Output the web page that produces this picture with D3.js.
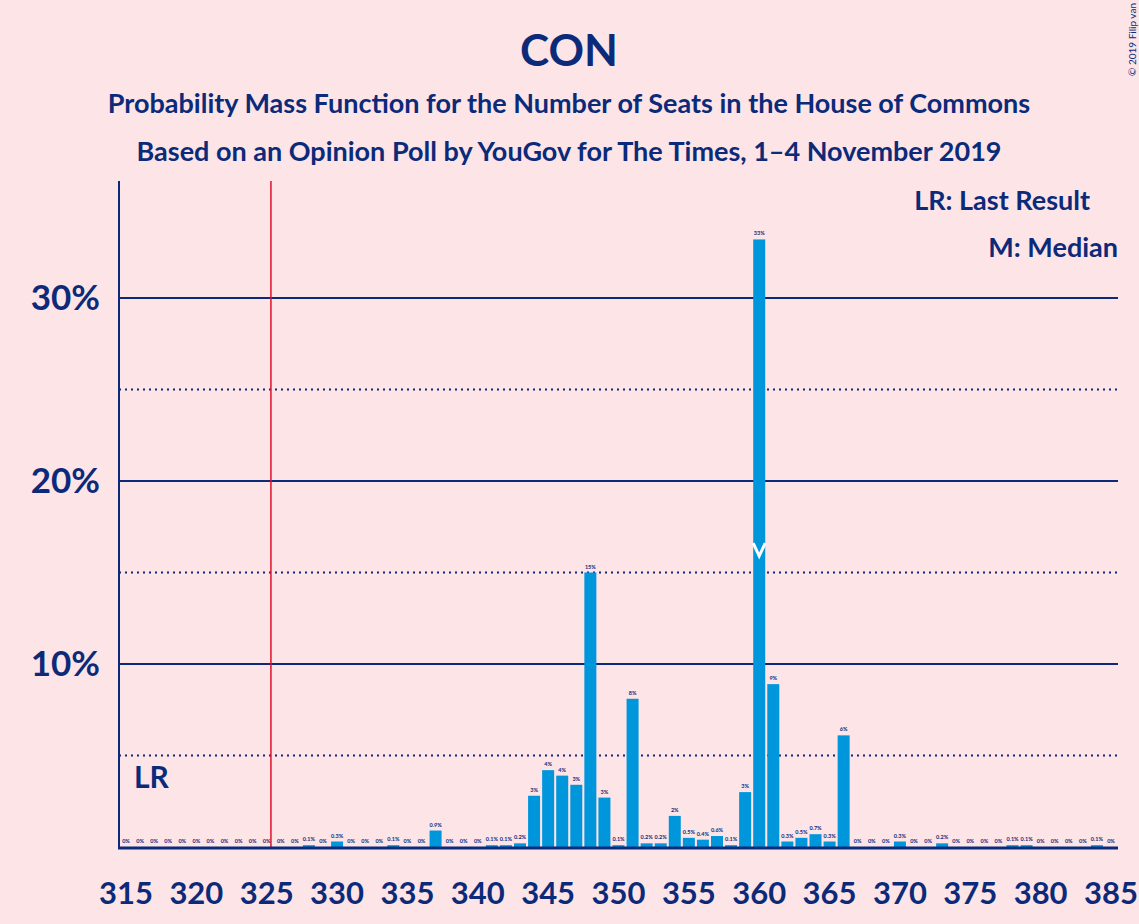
<!doctype html>
<html>
<head>
<meta charset="UTF-8">
<script src="https://cdnjs.cloudflare.com/ajax/libs/d3/7.8.5/d3.min.js"></script>
<style>
  body { margin: 0; background: #fde4e6; }
  text { font-family: Lato, sans-serif; }
</style>
</head>
<body>
<svg id="chart" width="1139" height="924"></svg>
<script>
// seats and probabilities (%)
const seats = d3.range(315, 386);
const probs = [
  0,0,0,0,0,0,0,0,0,0,0,          // 315-325
  0,0,0.1,0,0.3,0,0,0,0.1,0,       // 326-335
  0,0.9,0,0,0,0.1,0.1,0.2,2.8,4.2, // 336-345
  3.9,3.4,15.0,2.7,0.1,8.1,0.2,0.2,1.7,0.5, // 346-355
  0.4,0.6,0.1,3.0,33.2,8.9,0.3,0.5,0.7,0.3, // 356-365
  6.1,0,0,0,0.3,0,0,0.2,0,0,       // 366-375
  0,0,0.1,0.1,0,0,0,0,0.1,0        // 376-385
];
const xTicks = [315,320,325,330,335,340,345,350,355,360,365,370,375,380,385];
const yTicks = [10, 20, 30];
const yDotted = [5, 15, 25];
const lastResult = 325.3;
const median = 360;

const navy = '#0b2a7a';
const svg = d3.select('#chart');

const x = d3.scaleLinear().domain([315, 385]).range([126, 1111]);
const y = d3.scaleLinear().domain([0, 10]).range([847, 664]);

// titles
svg.append('text').attr('x', 569).attr('y', 66).attr('text-anchor', 'middle')
  .attr('font-size', 44).attr('font-weight', 'bold').attr('fill', navy).text('CON');
svg.append('text').attr('x', 569).attr('y', 113).attr('text-anchor', 'middle')
  .attr('font-size', 27).attr('font-weight', 'bold').attr('fill', navy)
  .text('Probability Mass Function for the Number of Seats in the House of Commons');
svg.append('text').attr('x', 569).attr('y', 161).attr('text-anchor', 'middle')
  .attr('font-size', 27).attr('font-weight', 'bold').attr('fill', navy)
  .text('Based on an Opinion Poll by YouGov for The Times, 1–4 November 2019');
svg.append('text').attr('transform', 'translate(1136,76) rotate(-90)')
  .attr('font-size', 10).attr('fill', navy).text('© 2019 Filip van Laenen');

// grid
svg.selectAll('.gd').data(yDotted).join('line')
  .attr('x1', 119).attr('x2', 1118).attr('y1', d => y(d)).attr('y2', d => y(d))
  .attr('stroke', navy).attr('stroke-width', 2).attr('stroke-dasharray', '2,4');
svg.selectAll('.gs').data(yTicks).join('line')
  .attr('x1', 119).attr('x2', 1118).attr('y1', d => y(d)).attr('y2', d => y(d))
  .attr('stroke', navy).attr('stroke-width', 2);

svg.selectAll('.yl').data(yTicks).join('text')
  .attr('x', 100).attr('y', d => y(d) + 12).attr('text-anchor', 'end')
  .attr('font-size', 35).attr('font-weight', 'bold').attr('fill', navy)
  .text(d => d + '%');

// bars
const data = seats.map((s, i) => ({ seat: s, p: probs[i] }));
svg.selectAll('.bar').data(data.filter(d => d.p > 0)).join('rect')
  .attr('x', d => x(d.seat) - 6).attr('width', 12)
  .attr('y', d => y(d.p)).attr('height', d => y(0) - y(d.p))
  .attr('fill', '#0096dc');

svg.selectAll('.bl').data(data).join('text')
  .attr('x', d => x(d.seat)).attr('y', d => y(d.p) - 4).attr('text-anchor', 'middle')
  .attr('font-size', 5.5).attr('font-weight', 'bold').attr('fill', navy)
  .text(d => d.p >= 1 ? Math.round(d.p) + '%' : (d.p === 0 ? '0%' : d.p.toFixed(1) + '%'));

// median marker
svg.append('path')
  .attr('d', `M${x(median) - 6},${y(16.6)} L${x(median)},${y(15.9)} L${x(median) + 6},${y(16.6)}`)
  .attr('fill', 'none').attr('stroke', 'white').attr('stroke-width', 3);

// last result line
svg.append('line').attr('x1', x(lastResult)).attr('x2', x(lastResult))
  .attr('y1', 181).attr('y2', 847).attr('stroke', '#e0102a').attr('stroke-width', 1.5);
svg.append('text').attr('x', 134).attr('y', 788).attr('font-size', 30)
  .attr('font-weight', 'bold').attr('fill', navy).text('LR');

// axes
svg.append('line').attr('x1', 119).attr('x2', 119).attr('y1', 181).attr('y2', 849)
  .attr('stroke', navy).attr('stroke-width', 2);
svg.append('line').attr('x1', 118).attr('x2', 1118).attr('y1', 848).attr('y2', 848)
  .attr('stroke', navy).attr('stroke-width', 3);

svg.selectAll('.xl').data(xTicks).join('text')
  .attr('x', d => x(d)).attr('y', 904).attr('text-anchor', 'middle')
  .attr('font-size', 31).attr('font-weight', 'bold').attr('fill', navy).text(d => d);

// legend
svg.append('text').attr('x', 1090).attr('y', 210).attr('text-anchor', 'end')
  .attr('font-size', 27).attr('font-weight', 'bold').attr('fill', navy).text('LR: Last Result');
svg.append('text').attr('x', 1118).attr('y', 257).attr('text-anchor', 'end')
  .attr('font-size', 27).attr('font-weight', 'bold').attr('fill', navy).text('M: Median');
</script>
</body>
</html>
